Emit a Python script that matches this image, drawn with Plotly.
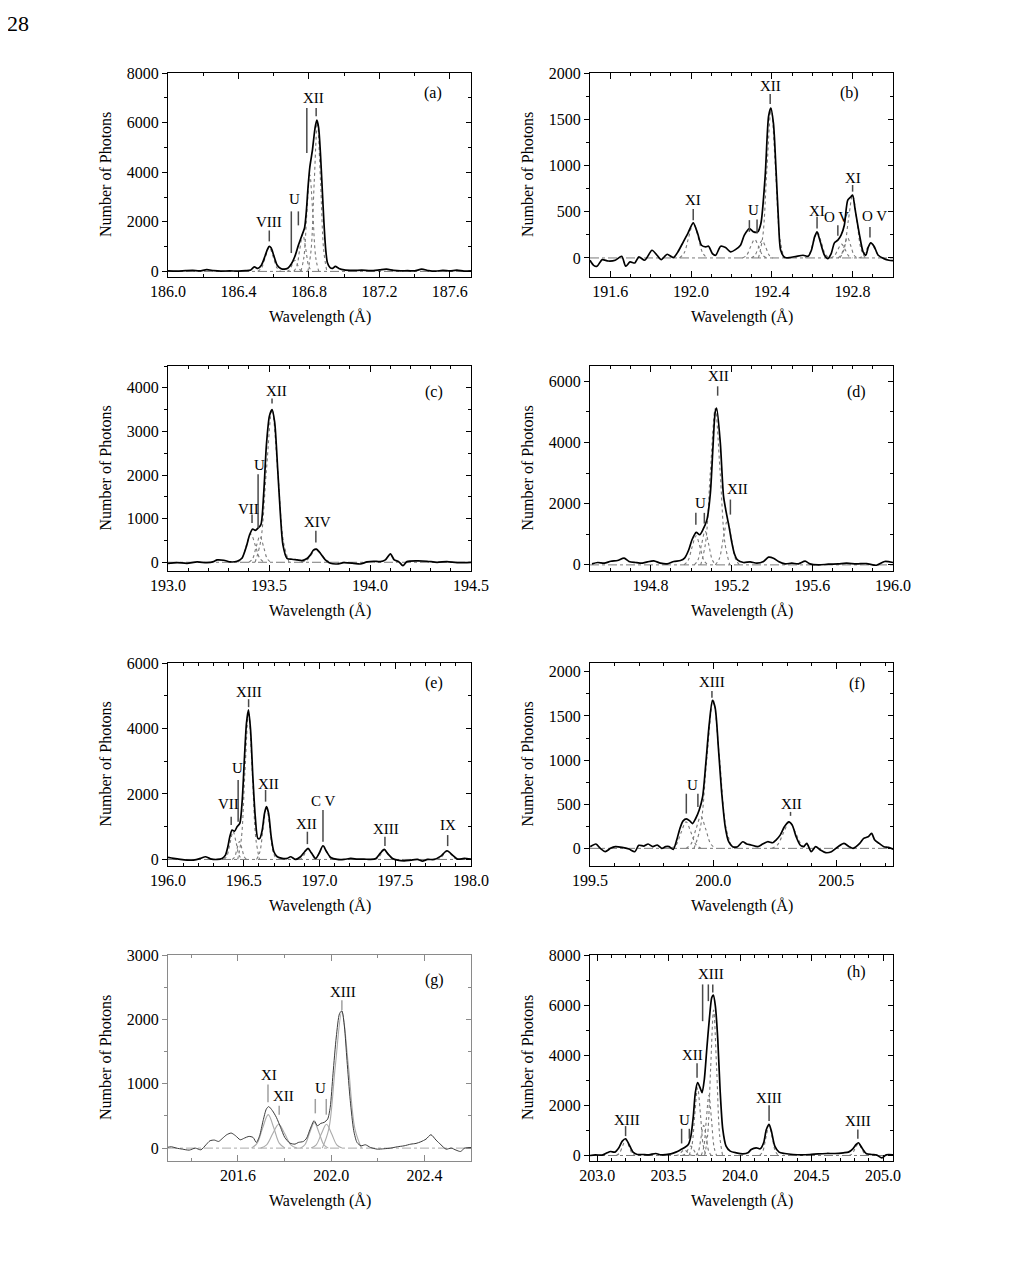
import plotly.graph_objects as go

W, H = 1025, 1266
FONT = "Liberation Serif, Times New Roman, serif"

# ------------------------------------------------------------------ data
# (a)
A_WAVE = [186.00, 186.05, 186.10, 186.14, 186.18, 186.22, 186.26, 186.30, 186.35, 186.40, 186.44, 186.47,
          186.49, 186.51, 186.53, 186.55, 186.565, 186.575, 186.585, 186.60, 186.62, 186.64, 186.66, 186.68,
          186.70, 186.72, 186.74, 186.76, 186.775, 186.785, 186.795, 186.805, 186.82, 186.835, 186.845,
          186.855, 186.865, 186.875, 186.885, 186.895, 186.905, 186.92, 186.935, 186.95, 186.97, 187.00,
          187.05, 187.10, 187.15, 187.20, 187.24, 187.28, 187.32, 187.36, 187.40, 187.44, 187.48, 187.52,
          187.56, 187.60, 187.64, 187.68, 187.72]
A_COUNTS = [20, 10, 30, 40, 20, 70, 30, 10, 20, 10, 30, 60,
            180, 120, 250, 600, 900, 1010, 950, 650, 250, 120, 90, 130,
            300, 600, 1050, 1450, 1750, 2400, 3400, 4200, 4900, 5800, 6100,
            5800, 4800, 3400, 2000, 900, 350, 150, 120, 200, 120, 60,
            40, 50, 30, 60, 90, 40, 20, 30, 20, 90, 30, 10,
            40, 20, 50, 10, 20]
A_COMP_X = [[186.509, 186.531, 186.553, 186.575, 186.597, 186.619, 186.641],
            [186.675, 186.69, 186.705, 186.72, 186.735, 186.75, 186.765],
            [186.714, 186.731, 186.748, 186.765, 186.782, 186.799, 186.816],
            [186.754, 186.771, 186.788, 186.805, 186.822, 186.839, 186.856],
            [186.794, 186.812, 186.83, 186.848, 186.866, 186.884, 186.902]]
A_COMP_Y = [[0, 137, 588, 980, 588, 137, 0],
            [0, 63, 270, 450, 270, 63, 0],
            [0, 210, 900, 1500, 900, 210, 0],
            [0, 546, 2340, 3900, 2340, 546, 0],
            [0, 840, 3600, 6000, 3600, 840, 0]]
A_LABELS = ["VIII", "U", "XII"]
A_LABEL_X = [186.575, 186.716, 186.826]
A_LABEL_Y = [1980, 2920, 6980]
A_MARK_X = [186.575, 186.70, 186.74, 186.788, 186.841]
A_MARK_Y0 = [1210, 740, 1856, 4775, 6254]
A_MARK_Y1 = [1650, 2420, 2420, 6590, 6590]

# (b)
B_WAVE = [191.5, 191.518, 191.535, 191.56, 191.59, 191.625, 191.657, 191.677, 191.698, 191.722, 191.742,
          191.771, 191.807, 191.832, 191.853, 191.882, 191.913, 191.935, 191.962, 191.984, 192.011, 192.033,
          192.052, 192.073, 192.087, 192.106, 192.122, 192.147, 192.171, 192.196, 192.22, 192.245, 192.264,
          192.289, 192.31, 192.33, 192.346, 192.367, 192.384, 192.395, 192.408, 192.421, 192.433, 192.444,
          192.465, 192.49, 192.522, 192.555, 192.58, 192.596, 192.612, 192.624, 192.64, 192.661, 192.678,
          192.694, 192.71, 192.727, 192.743, 192.759, 192.776, 192.792, 192.80, 192.813, 192.833, 192.852,
          192.865, 192.878, 192.89, 192.906, 192.927, 192.955, 192.98, 193.0]
B_COUNTS = [-25, -80, -90, -18, -33, -25, 18, -90, -43, -54, 11,
            -25, 83, 29, -18, 40, 4, 65, 174, 264, 380, 264,
            137, 119, 127, 47, 29, 127, 112, 65, 90, 137, 246,
            318, 282, 282, 373, 879, 1530, 1620, 1458, 951, 409, 83,
            4, 4, 18, 29, 18, 83, 228, 282, 174, 29, -7,
            47, 163, 192, 246, 354, 626, 662, 680, 517, 264, 65,
            29, 119, 163, 127, 29, -7, -25, -30]
B_COMP_X = [[191.943, 191.966, 191.989, 192.012, 192.035, 192.058, 192.081],
            [192.255, 192.275, 192.295, 192.315, 192.335, 192.355, 192.375],
            [192.298, 192.316, 192.334, 192.352, 192.37, 192.388, 192.406],
            [192.334, 192.355, 192.376, 192.397, 192.418, 192.439, 192.46],
            [192.565, 192.585, 192.605, 192.625, 192.645, 192.665, 192.685],
            [192.691, 192.709, 192.727, 192.745, 192.763, 192.781, 192.799],
            [192.727, 192.743, 192.759, 192.775, 192.791, 192.807, 192.823],
            [192.737, 192.758, 192.779, 192.8, 192.821, 192.842, 192.863],
            [192.83, 192.85, 192.87, 192.89, 192.91, 192.93, 192.95]]
B_COMP_Y = [[0, 53, 228, 380, 228, 53, 0],
            [0, 28, 120, 200, 120, 28, 0],
            [0, 27, 114, 190, 114, 27, 0],
            [0, 227, 972, 1620, 972, 227, 0],
            [0, 39, 168, 280, 168, 39, 0],
            [0, 21, 90, 150, 90, 21, 0],
            [0, 31, 132, 220, 132, 31, 0],
            [0, 95, 408, 680, 408, 95, 0],
            [0, 22, 96, 160, 96, 22, 0]]
B_LABELS = ["XI", "U", "XII", "XI", "O V", "XI", "O V"]
B_LABEL_X = [192.011, 192.307, 192.392, 192.625, 192.722, 192.8, 192.906]
B_LABEL_Y = [626, 520, 1860, 505, 445, 865, 450]
B_MARK_X = [192.011, 192.289, 192.327, 192.392, 192.624, 192.727, 192.8, 192.886]
B_MARK_Y0 = [409, 282, 264, 1664, 318, 239, 717, 220]
B_MARK_Y1 = [528, 409, 416, 1772, 445, 354, 789, 336]

# (c)
C_WAVE = [193.0, 193.045, 193.094, 193.144, 193.193, 193.226, 193.243, 193.276, 193.309, 193.342, 193.366,
          193.388, 193.404, 193.419, 193.432, 193.446, 193.46, 193.474, 193.487, 193.502, 193.515, 193.528,
          193.543, 193.556, 193.569, 193.589, 193.614, 193.639, 193.663, 193.688, 193.705, 193.721, 193.734,
          193.754, 193.779, 193.804, 193.837, 193.87, 193.919, 193.952, 193.985, 194.018, 194.051, 194.076,
          194.101, 194.12, 194.142, 194.163, 194.183, 194.233, 194.282, 194.332, 194.381, 194.431, 194.5]
C_COUNTS = [-23, -8, -23, 8, -8, 15, 54, 46, 8, 23, 92,
            362, 632, 763, 732, 786, 863, 1595, 2674, 3350, 3500, 3214,
            2135, 1133, 400, 92, 69, 54, 38, 85, 170, 285, 300,
            208, 54, -23, -39, -8, -23, -39, 8, 23, 15, 54,
            193, 54, 15, -77, 15, 31, 23, 0, 15, -8, 0]
C_COMP_X = [[193.344, 193.366, 193.388, 193.41, 193.432, 193.454, 193.476],
            [193.401, 193.419, 193.437, 193.455, 193.473, 193.491, 193.509],
            [193.431, 193.459, 193.487, 193.515, 193.543, 193.571, 193.599],
            [193.66, 193.685, 193.71, 193.735, 193.76, 193.785, 193.81]]
C_COMP_Y = [[0, 91, 390, 650, 390, 91, 0],
            [0, 84, 360, 600, 360, 84, 0],
            [0, 490, 2100, 3500, 2100, 490, 0],
            [0, 42, 180, 300, 180, 42, 0]]
C_LABELS = ["VII", "U", "XII", "XIV"]
C_LABEL_X = [193.399, 193.454, 193.535, 193.738]
C_LABEL_Y = [1230, 2240, 3920, 920]
C_MARK_X = [193.416, 193.446, 193.515, 193.732]
C_MARK_Y0 = [902, 786, 3638, 455]
C_MARK_Y1 = [1094, 2019, 3753, 724]

# (d)
D_WAVE = [194.51, 194.538, 194.571, 194.603, 194.636, 194.669, 194.693, 194.726, 194.759, 194.784, 194.816,
          194.849, 194.882, 194.915, 194.948, 194.968, 194.989, 195.005, 195.026, 195.043, 195.059, 195.079,
          195.096, 195.109, 195.12, 195.127, 195.145, 195.161, 195.175, 195.188, 195.201, 195.214, 195.23,
          195.26, 195.293, 195.326, 195.359, 195.384, 195.408, 195.433, 195.466, 195.499, 195.532, 195.565,
          195.589, 195.63, 195.68, 195.729, 195.77, 195.819, 195.869, 195.918, 195.959, 196.0]
D_COUNTS = [33, 77, 55, 120, 142, 219, 110, 77, 55, 99, 131,
            55, 33, 110, 142, 219, 493, 821, 1062, 986, 1150, 1478,
            2354, 3887, 5000, 5120, 3997, 2245, 1697, 1259, 767, 383, 164,
            77, 99, 55, 110, 252, 219, 110, 33, 55, 33, 120,
            33, 0, 22, 33, 55, 33, 44, -11, 110, 77]
D_COMP_X = [[194.965, 194.985, 195.005, 195.025, 195.045, 195.065, 195.085],
            [195.016, 195.034, 195.052, 195.07, 195.088, 195.106, 195.124],
            [195.048, 195.072, 195.096, 195.12, 195.144, 195.168, 195.192],
            [195.12, 195.14, 195.16, 195.18, 195.2, 195.22, 195.24]]
D_COMP_Y = [[0, 133, 570, 950, 570, 133, 0],
            [0, 154, 660, 1100, 660, 154, 0],
            [0, 714, 3060, 5100, 3060, 714, 0],
            [0, 203, 870, 1450, 870, 203, 0]]
D_LABELS = ["U", "XII", "XII"]
D_LABEL_X = [195.047, 195.134, 195.228]
D_LABEL_Y = [2010, 6180, 2480]
D_MARK_X = [195.024, 195.066, 195.132, 195.195]
D_MARK_Y0 = [1314, 1350, 5530, 1643]
D_MARK_Y1 = [1700, 1700, 5836, 2135]

# (e)
E_WAVE = [196.0, 196.037, 196.082, 196.126, 196.17, 196.214, 196.247, 196.28, 196.324, 196.357, 196.379,
          196.395, 196.408, 196.423, 196.439, 196.456, 196.474, 196.49, 196.505, 196.518, 196.531, 196.545,
          196.56, 196.576, 196.593, 196.606, 196.622, 196.637, 196.65, 196.664, 196.681, 196.699, 196.721,
          196.754, 196.787, 196.809, 196.842, 196.875, 196.902, 196.924, 196.946, 196.975, 196.997, 197.023,
          197.047, 197.074, 197.118, 197.162, 197.206, 197.25, 197.294, 197.338, 197.372, 197.4, 197.427,
          197.453, 197.482, 197.515, 197.559, 197.603, 197.647, 197.68, 197.713, 197.757, 197.801, 197.841,
          197.878, 197.911, 197.956, 198.0]
E_COUNTS = [61, 31, 0, -20, -20, 31, 82, 20, 0, 31, 133,
            388, 694, 898, 860, 1000, 1102, 1816, 3142, 4162, 4570, 3958,
            2530, 1306, 643, 643, 898, 1408, 1612, 1408, 694, 235, 82,
            31, 31, 82, 0, 82, 235, 337, 204, 31, 184, 418,
            235, 61, 0, 0, 31, 10, 10, 0, 31, 184, 306,
            163, 31, -20, -41, -20, 0, -51, 0, 0, 102, 265,
            133, 10, 31, 10]
E_COMP_X = [[196.37, 196.39, 196.41, 196.43, 196.45, 196.47, 196.49],
            [196.424, 196.44, 196.456, 196.472, 196.488, 196.504, 196.52],
            [196.46, 196.484, 196.508, 196.532, 196.556, 196.58, 196.604],
            [196.584, 196.606, 196.628, 196.65, 196.672, 196.694, 196.716],
            [196.865, 196.885, 196.905, 196.925, 196.945, 196.965, 196.985],
            [196.959, 196.981, 197.003, 197.025, 197.047, 197.069, 197.091],
            [197.364, 197.386, 197.408, 197.43, 197.452, 197.474, 197.496],
            [197.773, 197.797, 197.821, 197.845, 197.869, 197.893, 197.917]]
E_COMP_Y = [[0, 119, 510, 850, 510, 119, 0],
            [0, 77, 330, 550, 330, 77, 0],
            [0, 630, 2700, 4500, 2700, 630, 0],
            [0, 224, 960, 1600, 960, 224, 0],
            [0, 46, 198, 330, 198, 46, 0],
            [0, 59, 252, 420, 252, 59, 0],
            [0, 42, 180, 300, 180, 42, 0],
            [0, 36, 156, 260, 156, 36, 0]]
E_LABELS = ["VII", "U", "XIII", "XII", "XII", "C V", "XIII", "IX"]
E_LABEL_X = [196.397, 196.456, 196.534, 196.666, 196.915, 197.025, 197.438, 197.846]
E_LABEL_Y = [1680, 2800, 5120, 2290, 1090, 1780, 935, 1040]
E_MARK_X = [196.417, 196.463, 196.532, 196.644, 196.92, 197.023, 197.432, 197.846]
E_MARK_Y0 = [1050, 1153, 4651, 1765, 469, 541, 408, 408]
E_MARK_Y1 = [1306, 2428, 4896, 2122, 847, 1510, 694, 745]

# (f)
F_WAVE = [199.501, 199.524, 199.542, 199.562, 199.583, 199.603, 199.63, 199.658, 199.682, 199.698, 199.719,
          199.736, 199.755, 199.773, 199.791, 199.807, 199.821, 199.838, 199.852, 199.865, 199.878, 199.891,
          199.905, 199.916, 199.929, 199.943, 199.957, 199.97, 199.984, 199.997, 200.008, 200.022, 200.035,
          200.049, 200.063, 200.079, 200.099, 200.12, 200.136, 200.154, 200.181, 200.201, 200.221, 200.242,
          200.255, 200.272, 200.289, 200.307, 200.321, 200.337, 200.353, 200.367, 200.38, 200.398, 200.416,
          200.435, 200.457, 200.48, 200.507, 200.531, 200.552, 200.568, 200.595, 200.611, 200.629, 200.643,
          200.656, 200.674, 200.693, 200.711, 200.731]
F_COUNTS = [19, 49, 0, -38, 0, 19, 11, -8, -38, 34, 26,
            49, 19, 38, 0, 19, 19, -11, 94, 225, 311, 334,
            311, 281, 338, 431, 582, 957, 1407, 1677, 1595, 1107, 619,
            244, 75, 19, 19, 75, 49, 38, 19, 49, 75, 64,
            94, 150, 244, 300, 263, 131, 38, 19, 56, -38, 19,
            -19, -49, -38, 19, 56, 19, 0, 56, 113, 131, 169,
            94, 56, 19, 11, -11]
F_COMP_X = [[199.83, 199.85, 199.87, 199.89, 199.91, 199.93, 199.95],
            [199.89, 199.91, 199.93, 199.95, 199.97, 199.99, 200.01],
            [199.922, 199.948, 199.974, 200.0, 200.026, 200.052, 200.078],
            [200.238, 200.262, 200.286, 200.31, 200.334, 200.358, 200.382]]
F_COMP_Y = [[0, 42, 180, 300, 180, 42, 0],
            [0, 50, 216, 360, 216, 50, 0],
            [0, 235, 1008, 1680, 1008, 235, 0],
            [0, 42, 180, 300, 180, 42, 0]]
F_LABELS = ["U", "XIII", "XII"]
F_LABEL_X = [199.916, 199.997, 200.317]
F_LABEL_Y = [720, 1880, 500]
F_MARK_X = [199.891, 199.938, 199.995, 200.314]
F_MARK_Y0 = [394, 469, 1707, 368]
F_MARK_Y1 = [619, 619, 1782, 413]

# (g)
G_WAVE = [201.294, 201.315, 201.336, 201.362, 201.391, 201.417, 201.441, 201.463, 201.48, 201.499, 201.517,
          201.535, 201.552, 201.571, 201.59, 201.61, 201.628, 201.647, 201.665, 201.679, 201.693, 201.708,
          201.722, 201.732, 201.748, 201.765, 201.783, 201.801, 201.823, 201.845, 201.859, 201.881, 201.895,
          201.91, 201.927, 201.941, 201.956, 201.97, 201.985, 201.996, 202.008, 202.022, 202.036, 202.046,
          202.057, 202.068, 202.082, 202.097, 202.111, 202.128, 202.147, 202.169, 202.198, 202.226, 202.255,
          202.284, 202.313, 202.342, 202.364, 202.385, 202.407, 202.428, 202.45, 202.471, 202.493, 202.515,
          202.536, 202.555, 202.573, 202.602]
G_COUNTS = [10, 21, 0, -16, -31, 0, -26, 52, 114, 125, 104,
            156, 208, 234, 192, 130, 156, 182, 166, 88, 192, 426,
            608, 645, 582, 478, 322, 166, 78, 62, 88, 104, 156,
            296, 426, 348, 385, 400, 452, 634, 1154, 1726, 2090, 2132,
            1882, 1362, 738, 270, 88, 36, 52, 10, -16, -10, 0,
            21, 36, 62, 73, 99, 140, 208, 125, 52, -16, 0,
            -31, -52, 0, 10]
G_COMP_X = [[201.658, 201.682, 201.706, 201.73, 201.754, 201.778, 201.802],
            [201.697, 201.723, 201.749, 201.775, 201.801, 201.827, 201.853],
            [201.868, 201.888, 201.908, 201.928, 201.948, 201.968, 201.988],
            [201.914, 201.936, 201.958, 201.98, 202.002, 202.024, 202.046],
            [201.962, 201.99, 202.018, 202.046, 202.074, 202.102, 202.13]]
G_COMP_Y = [[0, 73, 312, 520, 312, 73, 0],
            [0, 52, 222, 370, 222, 52, 0],
            [0, 56, 240, 400, 240, 56, 0],
            [0, 52, 222, 370, 222, 52, 0],
            [0, 298, 1278, 2130, 1278, 298, 0]]
G_LABELS = ["XI", "XII", "U", "XIII"]
G_LABEL_X = [201.732, 201.794, 201.956, 202.049]
G_LABEL_Y = [1140, 815, 935, 2425]
G_MARK_X = [201.729, 201.777, 201.932, 201.979, 202.046]
G_MARK_Y0 = [712, 520, 540, 520, 2142]
G_MARK_Y1 = [988, 660, 764, 764, 2298]

# (h)
H_WAVE = [202.95, 202.988, 203.035, 203.07, 203.094, 203.124, 203.152, 203.176, 203.199, 203.223, 203.251,
          203.281, 203.316, 203.363, 203.41, 203.445, 203.481, 203.516, 203.551, 203.579, 203.609, 203.638,
          203.656, 203.673, 203.687, 203.703, 203.72, 203.734, 203.75, 203.767, 203.785, 203.802, 203.813,
          203.827, 203.844, 203.86, 203.879, 203.902, 203.931, 203.973, 204.02, 204.055, 204.078, 204.113,
          204.141, 204.165, 204.184, 204.203, 204.219, 204.243, 204.273, 204.313, 204.371, 204.43, 204.489,
          204.547, 204.606, 204.664, 204.723, 204.758, 204.789, 204.812, 204.828, 204.852, 204.882, 204.922,
          204.957, 204.992, 205.023, 205.07]
H_COUNTS = [0, 27, 13, 107, 160, 133, 307, 573, 667, 440, 133,
            40, 40, 27, 80, 27, 40, 67, 133, 213, 307, 440,
            773, 1573, 2506, 2906, 2706, 2506, 3039, 4239, 5439, 6306, 6399,
            5972, 4639, 2640, 1040, 373, 173, 107, 67, 107, 240, 307,
            267, 507, 1040, 1240, 973, 373, 133, 80, 40, 27, 40,
            67, 80, 80, 107, 133, 267, 440, 507, 307, 80, 40,
            13, -93, 27, 27]
H_COMP_X = [[203.134, 203.156, 203.178, 203.2, 203.222, 203.244, 203.266],
            [203.55, 203.57, 203.59, 203.61, 203.63, 203.65, 203.67],
            [203.595, 203.615, 203.635, 203.655, 203.675, 203.695, 203.715],
            [203.643, 203.663, 203.683, 203.703, 203.723, 203.743, 203.763],
            [203.691, 203.709, 203.727, 203.745, 203.763, 203.781, 203.799],
            [203.728, 203.746, 203.764, 203.782, 203.8, 203.818, 203.836],
            [203.752, 203.773, 203.794, 203.815, 203.836, 203.857, 203.878],
            [204.137, 204.159, 204.181, 204.203, 204.225, 204.247, 204.269],
            [204.762, 204.784, 204.806, 204.828, 204.85, 204.872, 204.894]]
H_COMP_Y = [[0, 88, 378, 630, 378, 88, 0],
            [0, 32, 138, 230, 138, 32, 0],
            [0, 53, 228, 380, 228, 53, 0],
            [0, 378, 1620, 2700, 1620, 378, 0],
            [0, 168, 720, 1200, 720, 168, 0],
            [0, 336, 1440, 2400, 1440, 336, 0],
            [0, 812, 3480, 5800, 3480, 812, 0],
            [0, 168, 720, 1200, 720, 168, 0],
            [0, 67, 288, 480, 288, 67, 0]]
H_LABELS = ["XIII", "U", "XII", "XIII", "XIII", "XIII"]
H_LABEL_X = [203.211, 203.609, 203.668, 203.797, 204.203, 204.824]
H_LABEL_Y = [1400, 1420, 4000, 7260, 2290, 1360]
H_MARK_X = [203.199, 203.591, 203.645, 203.699, 203.738, 203.778, 203.809, 204.203, 204.824]
H_MARK_Y0 = [773, 480, 667, 3106, 5359, 6159, 6506, 1373, 667]
H_MARK_Y1 = [1173, 1066, 1066, 3679, 6826, 6826, 6826, 2000, 1040]

PANEL_TAGS = ["(a)", "(b)", "(c)", "(d)", "(e)", "(f)", "(g)", "(h)"]
TAG_X = [187.505, 192.784, 194.315, 195.82, 197.757, 200.582, 202.443, 204.817]
TAG_Y = [7196, 1783, 3907, 5639, 5386, 1857, 2610, 7307]

X_TITLE = "Wavelength (Å)"
Y_TITLE = "Number of Photons"
PAGE_NUMBER = "28"

# ------------------------------------------------------------------ layout config
# axis settings: x range, y range, x tick0, x dtick, x minor, y dtick, y minor
AXES = [
    ([186.0, 187.72], [-226, 8000], 186.0, 0.4, 0.2, 2000, 1000),
    ([191.5, 193.0], [-206, 2000], 191.6, 0.4, 0.1, 500, 250),
    ([193.0, 194.5], [-200, 4500], 193.0, 0.5, 0.1, 1000, 500),
    ([194.5, 196.0], [-200, 6500], 194.8, 0.4, 0.1, 2000, 1000),
    ([196.0, 198.0], [-200, 6000], 196.0, 0.5, 0.1, 2000, 1000),
    ([199.5, 200.73], [-200, 2100], 199.5, 0.5, 0.1, 500, 250),
    ([201.3, 202.6], [-200, 3000], 201.6, 0.4, 0.2, 1000, 500),
    ([202.95, 205.07], [-220, 8000], 203.0, 0.5, 0.1, 2000, 1000),
]
DATA = [
    (A_WAVE, A_COUNTS, A_COMP_X, A_COMP_Y, A_LABELS, A_LABEL_X, A_LABEL_Y, A_MARK_X, A_MARK_Y0, A_MARK_Y1),
    (B_WAVE, B_COUNTS, B_COMP_X, B_COMP_Y, B_LABELS, B_LABEL_X, B_LABEL_Y, B_MARK_X, B_MARK_Y0, B_MARK_Y1),
    (C_WAVE, C_COUNTS, C_COMP_X, C_COMP_Y, C_LABELS, C_LABEL_X, C_LABEL_Y, C_MARK_X, C_MARK_Y0, C_MARK_Y1),
    (D_WAVE, D_COUNTS, D_COMP_X, D_COMP_Y, D_LABELS, D_LABEL_X, D_LABEL_Y, D_MARK_X, D_MARK_Y0, D_MARK_Y1),
    (E_WAVE, E_COUNTS, E_COMP_X, E_COMP_Y, E_LABELS, E_LABEL_X, E_LABEL_Y, E_MARK_X, E_MARK_Y0, E_MARK_Y1),
    (F_WAVE, F_COUNTS, F_COMP_X, F_COMP_Y, F_LABELS, F_LABEL_X, F_LABEL_Y, F_MARK_X, F_MARK_Y0, F_MARK_Y1),
    (G_WAVE, G_COUNTS, G_COMP_X, G_COMP_Y, G_LABELS, G_LABEL_X, G_LABEL_Y, G_MARK_X, G_MARK_Y0, G_MARK_Y1),
    (H_WAVE, H_COUNTS, H_COMP_X, H_COMP_Y, H_LABELS, H_LABEL_X, H_LABEL_Y, H_MARK_X, H_MARK_Y0, H_MARK_Y1),
]

# pixel boxes of the plot frames (page coordinates)
COL_X = [(168, 471), (590, 893)]
ROW_Y = [(73, 277), (366, 571), (663, 866), (955, 1161)]
PAGE_OFFSET = 8  # the page body margin that shifts the figure div


def fx(px):
    return (px - PAGE_OFFSET) / W


def fy(py):
    return 1 - (py - PAGE_OFFSET) / H


fig = go.Figure()
layout = dict(
    width=W, height=H, autosize=False,
    margin=dict(l=0, r=0, t=0, b=0, pad=0, autoexpand=False),
    paper_bgcolor="white", plot_bgcolor="white", showlegend=False,
    font=dict(family=FONT, size=16, color="black"),
)
annotations = []
shapes = []

for i in range(8):
    n = i + 1
    col, row = i % 2, i // 2
    xr, yr, xt0, xd, xm, yd, ym = AXES[i]
    wave, counts, cx, cy, labs, lx, ly, mx, my0, my1 = DATA[i]
    light = (i == 6)
    frame = "#8a8a8a" if light else "black"
    data_col = "#3a3a3a" if light else "black"
    data_w = 1.0 if light else 1.7
    comp_col = "#ababab" if light else "#7a7a7a"
    comp_dash = "solid" if light else "dot"
    mark_col = "#a0a0a0" if light else "#4a4a4a"

    xid = "x" if n == 1 else f"x{n}"
    yid = "y" if n == 1 else f"y{n}"
    oid = f"y{n + 8}"
    xkey = "xaxis" if n == 1 else f"xaxis{n}"
    ykey = "yaxis" if n == 1 else f"yaxis{n}"
    okey = f"yaxis{n + 8}"

    x0, x1 = COL_X[col]
    top, bot = ROW_Y[row]

    layout[xkey] = dict(
        domain=[fx(x0), fx(x1)], anchor=yid, range=xr, tick0=xt0, dtick=xd, automargin=False,
        tickformat=".1f", ticks="inside", ticklen=6, tickwidth=1, tickcolor=frame,
        showline=True, linecolor=frame, linewidth=1, mirror="ticks",
        showgrid=False, zeroline=False,
        minor=dict(ticks="inside", ticklen=3, tick0=xt0, dtick=xm, tickcolor=frame, showgrid=False),
        tickfont=dict(size=16, color="black"),
    )
    layout[ykey] = dict(
        domain=[fy(bot), fy(top)], anchor=xid, range=yr, tick0=0, dtick=yd, automargin=False,
        tickformat="d", ticks="outside", ticklen=5, tickwidth=1, tickcolor=frame,
        showline=True, linecolor=frame, linewidth=1, mirror=True,
        showgrid=False, zeroline=False,
        minor=dict(ticks="outside", ticklen=3, tick0=0, dtick=ym, tickcolor=frame, showgrid=False),
        tickfont=dict(size=16, color="black"),
    )
    layout[okey] = dict(
        overlaying=yid, anchor=xid, side="right", range=yr, tick0=0, dtick=yd, automargin=False,
        ticks="inside", ticklen=5, tickwidth=1, tickcolor=frame,
        showticklabels=False, showline=False, showgrid=False, zeroline=False,
        minor=dict(ticks="inside", ticklen=3, tick0=0, dtick=ym, tickcolor=frame, showgrid=False),
    )
    fig.add_trace(go.Scatter(x=[], y=[], xaxis=xid, yaxis=oid, hoverinfo="skip"))

    # zero baseline of the fit
    fig.add_trace(go.Scatter(x=xr, y=[0, 0], xaxis=xid, yaxis=yid, mode="lines",
                             line=dict(color=comp_col, width=1, dash="dashdot"), hoverinfo="skip"))
    # fitted components
    for xs, ys in zip(cx, cy):
        fig.add_trace(go.Scatter(x=xs, y=ys, xaxis=xid, yaxis=yid, mode="lines",
                                 line=dict(color=comp_col, width=1.1, dash=comp_dash, shape="spline",
                                           smoothing=1.0), hoverinfo="skip"))
    # observed spectrum
    fig.add_trace(go.Scatter(x=wave, y=counts, xaxis=xid, yaxis=yid, mode="lines",
                             line=dict(color=data_col, width=data_w, shape="spline", smoothing=0.7)))

    # ion labels
    for t, x, y in zip(labs, lx, ly):
        annotations.append(dict(text=t, x=x, y=y, xref=xid, yref=yid, showarrow=False,
                                xanchor="center", yanchor="middle",
                                font=dict(size=15, family=FONT, color="black")))
    for x, y0, y1 in zip(mx, my0, my1):
        shapes.append(dict(type="line", xref=xid, yref=yid, x0=x, x1=x, y0=y0, y1=y1,
                           line=dict(color=mark_col, width=1.5)))
    # panel tag
    annotations.append(dict(text=PANEL_TAGS[i], x=TAG_X[i], y=TAG_Y[i], xref=xid, yref=yid,
                            showarrow=False, xanchor="center", yanchor="middle",
                            font=dict(size=16, family=FONT, color="black")))
    # axis titles
    annotations.append(dict(text=X_TITLE, x=fx((x0 + x1) / 2), y=fy(bot + 40), xref="paper", yref="paper",
                            showarrow=False, xanchor="center", yanchor="middle",
                            font=dict(size=16, family=FONT, color="black")))
    annotations.append(dict(text=Y_TITLE, x=fx(x0 - 63), y=fy((top + bot) / 2), xref="paper", yref="paper",
                            showarrow=False, xanchor="center", yanchor="middle", textangle=-90,
                            font=dict(size=16, family=FONT, color="black")))

# page number (kept just inside the figure's top edge)
annotations.append(dict(text=PAGE_NUMBER, x=fx(18), y=1.0, xref="paper", yref="paper", showarrow=False,
                        xanchor="center", yanchor="top", yshift=-1,
                        font=dict(size=22, family=FONT, color="black")))

layout["annotations"] = annotations
layout["shapes"] = shapes
fig.update_layout(**layout)
fig.write_html("out.html")
